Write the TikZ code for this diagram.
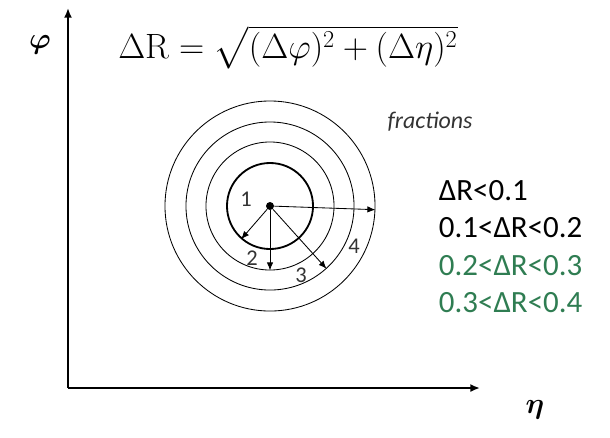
\documentclass[tikz,border=0pt]{standalone}
\usepackage{amsmath,bm}
\usepackage{fontspec}
\newfontfamily\calibri{Carlito}
\usetikzlibrary{arrows.meta}

\definecolor{fracgreen}{RGB}{47,125,82}

\begin{document}
\begin{tikzpicture}[x=0.025cm, y=-0.025cm,
        axis/.style = {line width=1.6pt, -{Latex[length=2.4mm, width=2mm]}},
        ring/.style = {circle, draw, line width=0.6pt, inner sep=0pt},
        radial/.style = {-{Latex[length=2mm, width=1.6mm]}, line width=0.6pt},
        num/.style = {font=\calibri\fontsize{16}{16}\selectfont, text=black!80},
        cut/.style = {anchor=west, font=\calibri\fontsize{22}{22}\selectfont}
    ]
    \useasboundingbox (0,0) rectangle (610,437);

    % axes
    \coordinate (origin) at (68,388);
    \coordinate (ytip) at (68,8);
    \coordinate (xtip) at (480,388);
    \draw[axis] (origin) -- (ytip);
    \draw[axis] (origin) -- (xtip);
    \node (philabel) at (40,45) {\fontsize{22}{22}\selectfont$\bm{\varphi}$};
    \node (etalabel) at (535,410) {\fontsize{22}{22}\selectfont$\bm{\eta}$};

    \node (formula) at (288,47) {\fontsize{25}{30}\selectfont$\Delta\mathrm{R} = \sqrt{(\Delta\varphi)^2 + (\Delta\eta)^2}$};

    % rings
    \node[circle, fill, inner sep=0pt, minimum size=0.2cm] (centre) at (270,206) {};
    \node[ring, line width=1.3pt, minimum size=2.15cm] (r1) at (centre) {};
    \node[ring, minimum size=3.2cm] (r2) at (centre) {};
    \node[ring, minimum size=4.2cm] (r3) at (centre) {};
    \node[ring, minimum size=5.25cm] (r4) at (centre) {};

    \draw[radial] (centre) -- (r1.229);
    \draw[radial] (centre) -- (r2.270);
    \draw[radial] (centre) -- (r3.312);
    \draw[radial] (centre) -- (r4.358);

    \node[num] (n1) at (246,199) {1};
    \node[num] (n2) at (252,258) {2};
    \node[num] (n3) at (301,275) {3};
    \node[num] (n4) at (354,246) {4};

    \node[font=\calibri\itshape\fontsize{17}{17}\selectfont, text=black!80] (fractions) at (430,122) {fractions};

    % cuts
    \node[cut] (cut1) at (434,191) {ΔR<0.1};
    \node[cut] (cut2) at (434,228) {0.1<ΔR<0.2};
    \node[cut, text=fracgreen] (cut3) at (434,266) {0.2<ΔR<0.3};
    \node[cut, text=fracgreen] (cut4) at (434,303) {0.3<ΔR<0.4};
\end{tikzpicture}
\end{document}
